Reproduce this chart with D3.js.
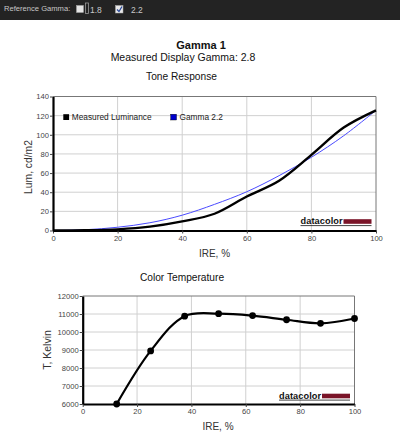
<!DOCTYPE html>
<html><head><meta charset="utf-8">
<script src="https://cdn.jsdelivr.net/npm/d3@7"></script>
<style>
body{margin:0;background:#fff;}
svg{display:block;font-family:"Liberation Sans",Arial,sans-serif;}
</style></head>
<body><svg id="c" width="400" height="438"></svg>
<script>
// ---- data ----
const ire = [0,10,20,30,40,50,60,70,80,90,100];
const measuredLum = [0,0.2,1.2,4,9.5,17.5,35.5,52,79,107.5,125.5];
const gamma22 = [0,0.8,3.4,8.1,16,27.3,40.5,57.3,76.5,99,125.5];
const lumTicks = [0,20,40,60,80,100,120,140];
const ireTicks = [0,20,40,60,80,100];
const ctIre = [12.5,25,37.5,50,62.5,75,87.5,100];
const ctKelvin = [6000,8950,10880,11020,10910,10680,10480,10750];
const kelvinTicks = [6000,7000,8000,9000,10000,11000,12000];
const legendNames = ["Measured Luminance","Gamma 2.2"];

const svg = d3.select("#c");

// ---- top bar ----
svg.append("rect").attr("x",0).attr("y",0).attr("width",400).attr("height",20).attr("fill","#232323");
svg.append("text").attr("x",4).attr("y",11).attr("fill","#c8c8c8").attr("font-size",7.6).text("Reference Gamma:");
svg.append("rect").attr("x",76.5).attr("y",5.5).attr("width",7).attr("height",7).attr("fill","#e4e4e4").attr("stroke","#aaa").attr("stroke-width",0.5);
svg.append("rect").attr("x",85.5).attr("y",3).attr("width",3).attr("height",10.5).attr("fill","none").attr("stroke","#999").attr("stroke-width",0.8);
svg.append("text").attr("x",90).attr("y",12.5).attr("fill","#c8c8c8").attr("font-size",8.5).text("1.8");
svg.append("rect").attr("x",115.5).attr("y",5.5).attr("width",7.5).attr("height",7.5).attr("fill","#e8e8e8").attr("stroke","#aaa").attr("stroke-width",0.5);
svg.append("path").attr("d","M117,9.5 L119,11.5 L122,6.5").attr("fill","none").attr("stroke","#2a4a9a").attr("stroke-width",1.3);
svg.append("text").attr("x",131).attr("y",12.5).attr("fill","#c8c8c8").attr("font-size",8.5).text("2.2");

// ---- titles ----
svg.append("text").attr("x",201).attr("y",49).attr("text-anchor","middle").attr("font-size",11).attr("font-weight","bold").attr("fill","#111").text("Gamma 1");
svg.append("text").attr("x",183).attr("y",61).attr("text-anchor","middle").attr("font-size",10.5).attr("fill","#111").text("Measured Display Gamma: 2.8");
svg.append("text").attr("x",181.5).attr("y",80).attr("text-anchor","middle").attr("font-size",10.2).attr("fill","#111").text("Tone Response");

function logo(g, x0, yc){
  g.append("text").attr("x",x0).attr("y",yc+3.2).attr("font-size",9.2).attr("font-weight","bold").attr("fill","#111").attr("letter-spacing",0.1).text("datacolor");
  g.append("rect").attr("x",x0+43).attr("y",yc-1.8).attr("width",28).attr("height",4.6).attr("fill","#7a1428");
  g.append("line").attr("x1",x0).attr("x2",x0+71).attr("y1",yc+4.6).attr("y2",yc+4.6).attr("stroke","#111").attr("stroke-width",0.8);
}

function chart(opts){
  const {x,y,xt,yt,fmtY} = opts;
  const g = svg.append("g");
  const [x0,x1] = x.range(), [y0,y1] = y.range();
  // grid
  g.selectAll(".gx").data(xt.slice(1,-1)).join("line")
    .attr("x1",d=>x(d)).attr("x2",d=>x(d)).attr("y1",y0).attr("y2",y1)
    .attr("stroke","#d0d0d0").attr("stroke-width",1);
  g.selectAll(".gy").data(yt.slice(1,-1)).join("line")
    .attr("y1",d=>y(d)).attr("y2",d=>y(d)).attr("x1",x0).attr("x2",x1)
    .attr("stroke","#d0d0d0").attr("stroke-width",1);
  // border top/right
  g.append("line").attr("x1",x0).attr("x2",x1).attr("y1",y1).attr("y2",y1).attr("stroke","#777").attr("stroke-width",1);
  g.append("line").attr("x1",x1).attr("x2",x1).attr("y1",y0).attr("y2",y1).attr("stroke","#777").attr("stroke-width",1);
  // axes
  const ax = g.append("g").attr("transform",`translate(0,${y0})`)
    .call(d3.axisBottom(x).tickValues(xt).tickSize(3).tickSizeOuter(0).tickPadding(2));
  const ay = g.append("g").attr("transform",`translate(${x0},0)`)
    .call(d3.axisLeft(y).tickValues(yt).tickSize(3).tickSizeOuter(0).tickPadding(1).tickFormat(fmtY||(d=>d)));
  [ax,ay].forEach(a=>{
    a.select(".domain").attr("stroke","#000").attr("stroke-width",2.2);
    a.selectAll(".tick line").attr("stroke","#444");
    a.selectAll("text").attr("font-size",7.6).attr("fill","#444").attr("font-family","Liberation Sans,Arial,sans-serif");
  });
  return g;
}

// ---- tone response ----
const x1 = d3.scaleLinear([0,100],[53,376]);
const y1 = d3.scaleLinear([0,140],[230.5,96.5]);
const g1 = chart({x:x1,y:y1,xt:ireTicks,yt:lumTicks});
const line1 = d3.line().curve(d3.curveCatmullRom.alpha(0.5));
g1.append("path").attr("d",line1(ire.map((v,i)=>[x1(v),y1(gamma22[i])])))
  .attr("fill","none").attr("stroke","#4a4aff").attr("stroke-width",1);
g1.append("path").attr("d",line1(ire.map((v,i)=>[x1(v),y1(measuredLum[i])])))
  .attr("fill","none").attr("stroke","#000").attr("stroke-width",2.4);
// legend
const lg = svg.append("g");
lg.append("rect").attr("x",63.3).attr("y",114.2).attr("width",5.8).attr("height",5.8).attr("fill","#000");
lg.append("text").attr("x",71.8).attr("y",120).attr("font-size",8.3).attr("fill","#222").text(legendNames[0]);
lg.append("rect").attr("x",170.7).attr("y",114.2).attr("width",5.8).attr("height",5.8).attr("fill","#0000cc").attr("stroke","#000").attr("stroke-width",0.4);
lg.append("text").attr("x",179.5).attr("y",120).attr("font-size",8.3).attr("fill","#222").text(legendNames[1]);
logo(svg,300.5,221);
svg.append("text").attr("transform","translate(31.5,167) rotate(-90)").attr("text-anchor","middle").attr("font-size",10.3).attr("fill","#333").text("Lum, cd/m2");
svg.append("text").attr("x",214.5).attr("y",257).attr("text-anchor","middle").attr("font-size",10).attr("fill","#333").text("IRE, %");

// ---- color temperature ----
svg.append("text").attr("x",182).attr("y",281).attr("text-anchor","middle").attr("font-size",10.2).attr("fill","#111").text("Color Temperature");
const x2 = d3.scaleLinear([0,100],[82.7,354.5]);
const y2 = d3.scaleLinear([6000,12000],[404,296]);
const g2 = chart({x:x2,y:y2,xt:ireTicks,yt:kelvinTicks});
g2.append("path").attr("d",line1(ctIre.map((v,i)=>[x2(v),y2(ctKelvin[i])])))
  .attr("fill","none").attr("stroke","#000").attr("stroke-width",2.2);
g2.selectAll(".pt").data(ctIre).join("circle")
  .attr("cx",d=>x2(d)).attr("cy",(d,i)=>y2(ctKelvin[i])).attr("r",3.4).attr("fill","#000");
logo(svg,279,395.5);
svg.append("text").attr("transform","translate(51,350) rotate(-90)").attr("text-anchor","middle").attr("font-size",10.5).attr("fill","#333").text("T, Kelvin");
svg.append("text").attr("x",218).attr("y",429.5).attr("text-anchor","middle").attr("font-size",10).attr("fill","#333").text("IRE, %");
</script></body></html>
